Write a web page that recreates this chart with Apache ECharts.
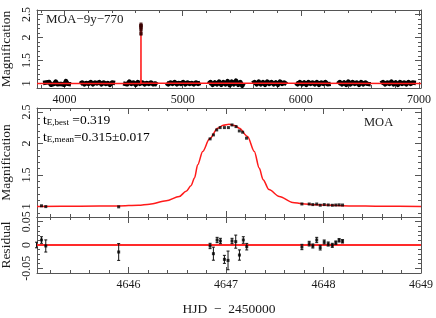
<!DOCTYPE html>
<html><head><meta charset="utf-8">
<script src="https://cdn.jsdelivr.net/npm/echarts@6/dist/echarts.min.js"></script>
<style>html,body{margin:0;padding:0;background:#fff}#c{width:436px;height:318px}</style>
</head><body><div id="c"></div>
<script>
// ---------- data ----------
const topXRange = [3767, 7017];
const topYRange = [0.9, 2.6];
const zoomXRange = [4645.06, 4649.0];
const midYRange = [0.834, 2.564];
const resYRange = [-0.06, 0.06];

// MOA survey seasons (HJD-2450000, magnification)
const season1 = [[3818,1.01],[3832,0.98],[3845,1.02],[3858,0.99],[3871,1.03],[3885,0.97],[3899,1.01],[3912,0.99],[3926,1.04],[3940,0.98],[3955,1.02],[3969,0.99],[3984,1.03],[3998,0.97],[4012,1.05],[4027,0.99],[4041,1.02],[4055,0.98]];
const season2 = [[4132,0.99],[4150,1.02],[4168,0.98],[4186,1.01],[4204,0.99],[4222,1.03],[4240,0.98],[4258,1.02],[4276,1.00],[4294,1.03],[4312,0.98],[4330,1.02],[4348,0.99],[4366,1.01],[4384,0.97],[4402,1.02],[4418,0.99],[4428,1.01]];
const season3 = [[4496,1.00],[4512,1.03],[4530,0.98],[4548,1.04],[4566,0.99],[4584,1.02],[4602,0.97],[4620,1.03],[4638,0.99],[4660,1.02],[4678,0.98],[4696,1.01],[4714,0.99],[4732,1.02],[4750,0.98],[4768,1.00],[4785,0.97]];
const season4 = [[4861,1.01],[4878,0.98],[4896,1.02],[4914,0.99],[4932,1.03],[4950,0.98],[4968,1.01],[4986,0.99],[5004,1.03],[5022,0.98],[5040,1.02],[5058,0.99],[5076,1.01],[5094,0.98],[5112,1.02],[5130,0.99],[5150,1.01]];
const season5 = [[5218,0.99],[5236,1.03],[5254,0.97],[5272,1.02],[5290,0.98],[5308,1.04],[5326,0.97],[5344,1.03],[5362,0.98],[5380,1.05],[5398,0.96],[5416,1.04],[5434,0.98],[5452,1.06],[5470,0.97],[5488,1.03],[5504,0.95],[5515,1.01]];
const season6 = [[5591,1.00],[5608,1.03],[5626,0.98],[5644,1.04],[5662,0.98],[5680,1.03],[5698,0.97],[5716,1.04],[5734,0.99],[5752,1.03],[5770,0.98],[5788,1.02],[5806,0.97],[5824,1.04],[5842,0.99],[5860,1.02],[5880,0.98]];
const season7 = [[5956,1.01],[5974,0.98],[5992,1.03],[6010,0.98],[6028,1.02],[6046,0.97],[6064,1.03],[6082,0.99],[6100,1.02],[6118,0.98],[6136,1.03],[6154,0.97],[6172,1.02],[6190,0.99],[6208,1.03],[6226,0.98],[6240,1.01],[6253,0.99]];
const season8 = [[6312,0.99],[6330,1.03],[6348,0.98],[6366,1.02],[6384,0.97],[6402,1.04],[6420,0.98],[6438,1.03],[6456,0.99],[6474,1.02],[6492,0.97],[6510,1.03],[6528,0.98],[6546,1.02],[6564,0.99],[6580,1.03],[6592,0.98]];
const season9 = [[6677,1.00],[6695,1.03],[6713,0.98],[6731,1.02],[6749,0.99],[6767,1.04],[6785,0.98],[6803,1.02],[6821,0.97],[6839,1.03],[6857,0.99],[6875,1.02],[6893,0.98],[6911,1.03],[6929,0.99],[6947,1.02],[6963,0.98],[6974,1.01]];
const seasons = [season1, season2, season3, season4, season5, season6, season7, season8, season9];

// best-fit model (HJD-2450000, magnification)
const modelCurve = [[4645.06,1.0],[4645.5,1.004],[4645.9,1.01],[4646.1,1.02],[4646.215,1.038],[4646.386,1.09],[4646.52,1.16],[4646.59,1.242],[4646.64,1.33],[4646.676,1.453],[4646.709,1.663],[4646.76,1.874],[4646.83,2.074],[4646.914,2.243],[4646.97,2.29],[4647.03,2.306],[4647.09,2.285],[4647.136,2.243],[4647.22,2.111],[4647.29,1.874],[4647.34,1.611],[4647.38,1.427],[4647.44,1.269],[4647.546,1.16],[4647.683,1.065],[4647.78,1.045],[4647.92,1.028],[4648.26,1.01],[4648.6,1.004],[4649.0,1.0]];
const modelBaseline = [[3767,1.0],[4645.06,1.0],[7017,1.0]];

// MOA points around the peak
const moaPoints = [[4645.055,1.0],[4645.106,1.012],[4645.15,0.999],[4645.898,0.995],
  [4646.836,2.074],[4646.87,2.137],[4646.904,2.216],[4646.939,2.253],[4646.983,2.253],[4647.024,2.253],[4647.061,2.295],[4647.102,2.269],[4647.136,2.2],[4647.17,2.18],[4647.21,2.085],
  [4647.778,1.041],[4647.853,1.04],[4647.89,1.031],[4647.93,1.04],[4647.966,1.021],[4648.007,1.031],[4648.048,1.025],[4648.09,1.02],[4648.126,1.024],[4648.16,1.027],[4648.195,1.024]];

// residuals: [HJD-2450000, residual, error]
const residuals = [[4645.055,0,0.006],[4645.106,0.0107,0.007],[4645.15,-0.0021,0.013],[4645.898,-0.015,0.018],
  [4646.836,-0.0021,0.0057],[4646.87,-0.0186,0.014],[4646.908,0.0107,0.0057],[4646.942,0.0086,0.0057],[4646.983,-0.0308,0.0086],[4647.02,-0.033,0.02],[4647.061,0.0086,0.0057],[4647.099,0.0072,0.014],[4647.137,-0.0215,0.011],[4647.177,0.0107,0.007],[4647.212,-0.0036,0.007],
  [4647.778,-0.0043,0.0057],[4647.853,0.0029,0.005],[4647.89,-0.0021,0.0043],[4647.93,0.0107,0.0057],[4647.966,-0.0057,0.005],[4648.007,0.0064,0.0043],[4648.048,0.0021,0.0043],[4648.09,-0.0007,0.0043],[4648.126,0.005,0.0036],[4648.16,0.01,0.0036],[4648.195,0.0079,0.0036]];
const residualZero = [[4645.06,0],[4649.0,0]];

const topXStep = 1000, zoomXStep = 1, magStep = 0.5, resStep = 0.05;

// ---------- chart ----------
const FONT = 'Liberation Serif';
const AX = '#555';
const TXT = '#1a1a1a';
function isMult(v, s){ const r = v / s; return Math.abs(r - Math.round(r)) < 1e-6; }
function fmt(v, s){ if(!isMult(v,s)) return ''; return String(+v.toFixed(4)); }

function axis(kind, gi, pos, range, sn, step, showLabel, extra){
  const a = {
    type:'value', gridIndex:gi, position:pos, min:range[0], max:range[1], splitNumber:sn,
    axisLine:{show:true, onZero:false, lineStyle:{color:AX, width:1}},
    axisTick:{show:true, inside:true, length:6, lineStyle:{color:AX, width:1}},
    minorTick:{show:true, splitNumber:5, length:3, lineStyle:{color:AX, width:1}},
    splitLine:{show:false}, minorSplitLine:{show:false},
    axisLabel:{show:showLabel, color:TXT, fontFamily:FONT, fontSize:12,
      formatter:(v)=>fmt(v, step), margin: kind==='x'?6:4, rotate: kind==='y'?90:0,
      showMinLabel:true, showMaxLabel:true, hideOverlap:false},
    nameTextStyle:{color:TXT, fontFamily:FONT, fontSize:13.5}
  };
  return Object.assign(a, extra||{});
}

const xAxes = [
  axis('x',0,'bottom',topXRange,3,topXStep,true),
  axis('x',0,'top',topXRange,3,topXStep,false),
  axis('x',1,'bottom',zoomXRange,4,zoomXStep,false),
  axis('x',1,'top',zoomXRange,4,zoomXStep,false),
  axis('x',2,'bottom',zoomXRange,4,zoomXStep,true,{name:'HJD  \u2212  2450000', nameLocation:'middle', nameGap:29}),
  axis('x',2,'top',zoomXRange,4,zoomXStep,false)
];
const yAxes = [
  axis('y',0,'left',topYRange,3,magStep,true,{name:'Magnification', nameLocation:'middle', nameGap:20}),
  axis('y',0,'right',topYRange,3,magStep,false),
  axis('y',1,'left',midYRange,3,magStep,true,{name:'Magnification', nameLocation:'middle', nameGap:20}),
  axis('y',1,'right',midYRange,3,magStep,false),
  axis('y',2,'left',resYRange,2,resStep,true,{name:'Residual', nameLocation:'middle', nameGap:20}),
  axis('y',2,'right',resYRange,2,resStep,false)
];

const series = [];
seasons.forEach(s => series.push({type:'line', xAxisIndex:0, yAxisIndex:0, data:s, symbol:'none',
  lineStyle:{color:'#000', width:4.5, join:'round'}, z:2, silent:true}));
// top panel model: baseline plus spike
const topModel = modelBaseline.slice(0,1).concat(modelCurve, modelBaseline.slice(2));
series.push({type:'line', xAxisIndex:0, yAxisIndex:0, data:topModel, symbol:'none',
  lineStyle:{color:'#ff1a1a', width:1.5}, z:3});
series.push({type:'scatter', xAxisIndex:0, yAxisIndex:0, data:moaPoints.filter(p=>p[1]>1.5),
  symbol:'rect', symbolSize:[3,3], itemStyle:{color:'#3a0000'}, z:4});

// middle panel
series.push({type:'line', xAxisIndex:2, yAxisIndex:2, data:modelCurve, symbol:'none', smooth:0.3, smoothMonotone:'x',
  lineStyle:{color:'#ff1a1a', width:1.5}, z:3});
series.push({type:'scatter', xAxisIndex:2, yAxisIndex:2, data:moaPoints, symbol:'rect', symbolSize:[3,3],
  itemStyle:{color:'#000'}, z:4});

// residual panel
series.push({type:'line', xAxisIndex:4, yAxisIndex:4, data:residualZero, symbol:'none',
  lineStyle:{color:'#ff2a2a', width:1.8}, z:2});
series.push({type:'custom', xAxisIndex:4, yAxisIndex:4, data:residuals, encode:{x:0,y:1}, z:3,
  renderItem:(params, api)=>{
    const x = api.value(0), y = api.value(1), e = api.value(2);
    const p1 = api.coord([x, y+e]), p2 = api.coord([x, y-e]);
    const c = 1.5, st = {stroke:'#111', lineWidth:1};
    return {type:'group', children:[
      {type:'line', shape:{x1:p1[0],y1:p1[1],x2:p2[0],y2:p2[1]}, style:st},
      {type:'line', shape:{x1:p1[0]-c,y1:p1[1],x2:p1[0]+c,y2:p1[1]}, style:st},
      {type:'line', shape:{x1:p2[0]-c,y1:p2[1],x2:p2[0]+c,y2:p2[1]}, style:st}
    ]};
  }});
series.push({type:'scatter', xAxisIndex:4, yAxisIndex:4, data:residuals.map(r=>[r[0],r[1]]), symbol:'rect', symbolSize:[3,3],
  itemStyle:{color:'#000'}, z:4});

const sub = {
  a:{fontSize:13.5, fontFamily:FONT, color:TXT, lineHeight:14},
  b:{fontSize:9, fontFamily:FONT, color:TXT, lineHeight:9, padding:[10,0,0,0], verticalAlign:'bottom'}
};

const option = {
  animation:false,
  backgroundColor:'#fff',
  grid:[
    {left:37, right:15, top:10, height:78, containLabel:false, outerBoundsMode:'none'},
    {left:37, right:15, top:108, height:109, containLabel:false, outerBoundsMode:'none'},
    {left:37, right:15, top:217, height:56, containLabel:false, outerBoundsMode:'none'}
  ],
  xAxis:xAxes, yAxis:yAxes, series:series,
  graphic:[
    {type:'text', left:46, top:13, style:{text:'MOA\u22129y\u2212770', fontFamily:FONT, fontSize:13, fill:TXT}},
    {type:'text', left:364, top:116, style:{text:'MOA', fontFamily:FONT, fontSize:12.5, fill:TXT}},
    {type:'text', left:43, top:108, style:{text:'{a|t}{b|E,best}{a| =0.319}', rich:sub}},
    {type:'text', left:43, top:125, style:{text:'{a|t}{b|E,mean}{a|=0.315\u00b10.017}', rich:sub}}
  ]
};
const chart = echarts.init(document.getElementById('c'), null, {renderer:'canvas'});
chart.setOption(option);
</script>
</body></html>
